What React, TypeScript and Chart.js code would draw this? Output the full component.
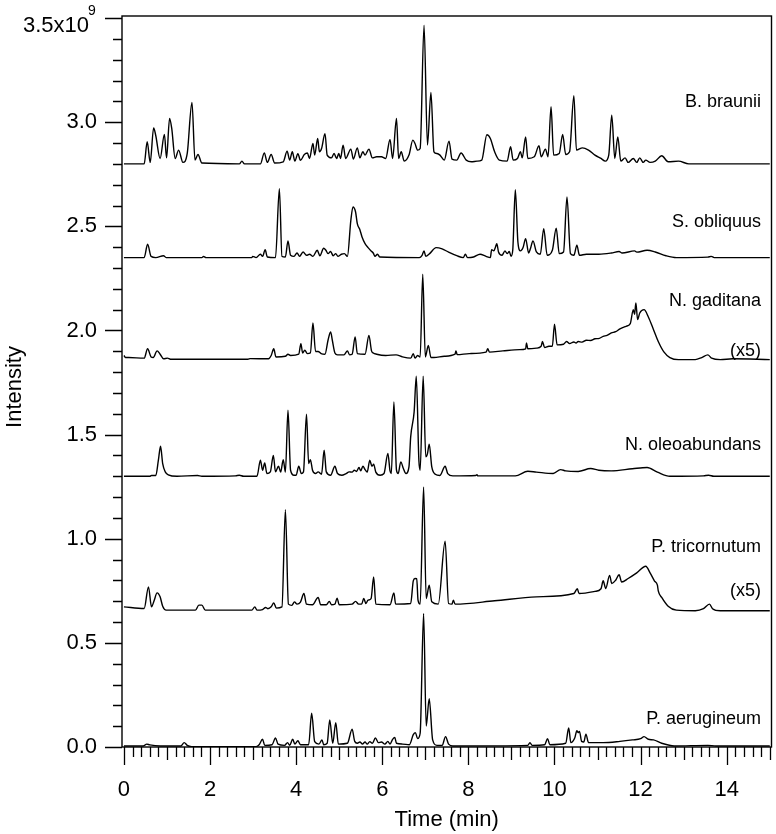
import React, { useEffect, useRef } from 'react';
import { Chart, registerables } from 'chart.js';

Chart.register(...registerables);

const FONT = '"Liberation Sans", Arial, Helvetica, sans-serif';

// ---- data (intensity in units of 1e9, time in min) ----
const seriesNames = ['B. braunii', 'S. obliquus', 'N. gaditana', 'N. oleoabundans', 'P. tricornutum', 'P. aerugineum'];
const scaleNotes = ['', '', '(x5)', '', '(x5)', ''];
const xTickValues = [0, 2, 4, 6, 8, 10, 12, 14];
const yTickValues = [0, 0.5, 1, 1.5, 2, 2.5, 3];
const yTopLabel = '3.5x10';
const yTopExponent = '9';
const xTitle = 'Time (min)';
const yTitle = 'Intensity';

const bBraunii: [number, number][] = [
  [0, 2.8], [0.47, 2.8], [0.54, 2.906], [0.61, 2.807], [0.69, 2.973], [0.74, 2.935], [0.84, 2.826], [0.94, 2.941], [0.99, 2.829], [1.06, 3.018], [1.11, 2.97], [1.19, 2.826], [1.27, 2.866], [1.37, 2.807], [1.47, 2.85], [1.58, 3.095], [1.65, 2.818], [1.72, 2.845], [1.81, 2.804], [2.68, 2.8], [2.74, 2.813], [2.8, 2.8], [3.17, 2.8], [3.26, 2.853], [3.33, 2.807], [3.42, 2.845], [3.5, 2.804], [3.7, 2.81], [3.79, 2.861], [3.85, 2.818], [3.91, 2.858], [3.97, 2.813], [4.04, 2.849], [4.1, 2.817], [4.19, 2.845], [4.26, 2.852], [4.31, 2.826], [4.39, 2.898], [4.43, 2.842], [4.5, 2.922], [4.54, 2.858], [4.59, 2.874], [4.67, 2.945], [4.72, 2.842], [4.82, 2.829], [4.88, 2.85], [4.94, 2.826], [4.99, 2.85], [5.03, 2.826], [5.09, 2.89], [5.15, 2.826], [5.27, 2.871], [5.33, 2.823], [5.42, 2.877], [5.48, 2.829], [5.55, 2.858], [5.6, 2.842], [5.69, 2.871], [5.77, 2.829], [5.87, 2.834], [5.98, 2.834], [6.08, 2.826], [6.18, 2.917], [6.24, 2.826], [6.33, 3.018], [6.38, 2.826], [6.44, 2.858], [6.51, 2.813], [6.62, 2.842], [6.71, 2.914], [6.76, 2.898], [6.82, 2.866], [6.88, 2.874], [6.97, 3.466], [7.05, 2.89], [7.13, 3.143], [7.2, 2.858], [7.27, 2.85], [7.34, 2.842], [7.44, 2.818], [7.55, 2.909], [7.62, 2.823], [7.73, 2.818], [7.83, 2.852], [7.95, 2.818], [8.07, 2.81], [8.2, 2.813], [8.31, 2.818], [8.43, 2.94], [8.51, 2.922], [8.61, 2.858], [8.72, 2.818], [8.9, 2.813], [8.98, 2.882], [9.04, 2.818], [9.14, 2.826], [9.21, 2.858], [9.25, 2.829], [9.33, 2.929], [9.38, 2.826], [9.53, 2.834], [9.64, 2.887], [9.69, 2.834], [9.79, 2.871], [9.85, 2.834], [9.92, 3.074], [9.98, 2.842], [10.11, 2.85], [10.19, 2.941], [10.26, 2.845], [10.35, 2.858], [10.45, 3.127], [10.51, 2.866], [10.65, 2.877], [10.79, 2.866], [10.94, 2.842], [11.08, 2.826], [11.18, 2.813], [11.26, 2.842], [11.33, 3.034], [11.4, 2.826], [11.47, 2.929], [11.54, 2.813], [11.64, 2.829], [11.71, 2.807], [11.83, 2.826], [11.91, 2.807], [11.98, 2.829], [12.06, 2.807], [12.12, 2.818], [12.22, 2.807], [12.34, 2.813], [12.49, 2.839], [12.64, 2.81], [12.88, 2.813], [13.12, 2.8], [15, 2.8],
];

const sObliquus: [number, number][] = [
  [0, 2.35], [0.47, 2.35], [0.55, 2.414], [0.63, 2.356], [0.74, 2.35], [0.92, 2.359], [0.98, 2.35], [1.81, 2.35], [1.85, 2.355], [1.91, 2.35], [2.97, 2.35], [2.99, 2.356], [3.07, 2.35], [3.17, 2.366], [3.22, 2.356], [3.28, 2.388], [3.33, 2.353], [3.52, 2.35], [3.61, 2.681], [3.67, 2.356], [3.75, 2.353], [3.81, 2.43], [3.87, 2.361], [3.95, 2.356], [4.02, 2.372], [4.08, 2.356], [4.16, 2.377], [4.24, 2.361], [4.31, 2.366], [4.39, 2.356], [4.49, 2.385], [4.55, 2.359], [4.64, 2.395], [4.69, 2.385], [4.74, 2.369], [4.8, 2.379], [4.86, 2.359], [4.92, 2.369], [4.97, 2.356], [5.05, 2.366], [5.12, 2.369], [5.19, 2.356], [5.27, 2.529], [5.32, 2.593], [5.38, 2.569], [5.42, 2.513], [5.48, 2.484], [5.53, 2.449], [5.6, 2.417], [5.67, 2.398], [5.74, 2.382], [5.79, 2.372], [5.83, 2.356], [5.89, 2.366], [5.94, 2.353], [6.86, 2.35], [6.92, 2.359], [6.97, 2.382], [7.01, 2.356], [7.1, 2.369], [7.25, 2.398], [7.39, 2.392], [7.54, 2.376], [7.73, 2.359], [7.88, 2.35], [7.93, 2.366], [7.98, 2.35], [8.12, 2.353], [8.27, 2.366], [8.41, 2.356], [8.51, 2.35], [8.54, 2.388], [8.59, 2.382], [8.63, 2.401], [8.66, 2.417], [8.7, 2.377], [8.78, 2.361], [8.85, 2.382], [8.9, 2.369], [8.95, 2.379], [8.99, 2.356], [9.03, 2.385], [9.09, 2.676], [9.15, 2.425], [9.21, 2.382], [9.27, 2.398], [9.33, 2.441], [9.4, 2.372], [9.44, 2.392], [9.5, 2.43], [9.58, 2.377], [9.67, 2.366], [9.75, 2.489], [9.83, 2.361], [9.95, 2.385], [10.04, 2.491], [10.11, 2.369], [10.21, 2.377], [10.29, 2.641], [10.37, 2.369], [10.45, 2.361], [10.52, 2.409], [10.58, 2.361], [10.74, 2.366], [11.03, 2.366], [11.32, 2.372], [11.5, 2.379], [11.57, 2.372], [11.86, 2.382], [11.91, 2.376], [12.15, 2.385], [12.34, 2.377], [12.59, 2.359], [12.83, 2.35], [13.56, 2.352], [13.64, 2.356], [13.71, 2.35], [15, 2.35],
];

const nGaditana: [number, number][] = [
  [0, 1.88], [0.04, 1.87], [0.11, 1.87], [0.47, 1.867], [0.55, 1.912], [0.63, 1.873], [0.68, 1.87], [0.77, 1.902], [0.84, 1.886], [0.92, 1.864], [1.01, 1.867], [1.08, 1.862], [1.32, 1.862], [2.88, 1.862], [2.93, 1.865], [3.36, 1.864], [3.42, 1.88], [3.48, 1.912], [3.53, 1.873], [3.75, 1.876], [3.81, 1.886], [3.87, 1.88], [4.06, 1.886], [4.11, 1.937], [4.15, 1.892], [4.2, 1.905], [4.26, 1.889], [4.33, 1.892], [4.39, 2.036], [4.45, 1.899], [4.51, 1.899], [4.58, 1.889], [4.67, 1.886], [4.74, 1.953], [4.8, 1.993], [4.84, 1.953], [4.9, 1.892], [4.96, 1.883], [5.11, 1.883], [5.19, 1.902], [5.24, 1.883], [5.3, 1.886], [5.37, 1.969], [5.42, 1.889], [5.6, 1.886], [5.69, 1.976], [5.75, 1.902], [5.79, 1.892], [5.87, 1.886], [6.08, 1.88], [6.32, 1.883], [6.47, 1.873], [6.66, 1.867], [6.72, 1.889], [6.76, 1.867], [6.82, 1.88], [6.88, 1.873], [6.94, 2.27], [7.0, 1.873], [7.07, 1.928], [7.13, 1.87], [7.2, 1.87], [7.44, 1.876], [7.69, 1.886], [7.71, 1.902], [7.74, 1.884], [8.02, 1.889], [8.41, 1.896], [8.45, 1.912], [8.49, 1.896], [8.8, 1.902], [9.19, 1.908], [9.33, 1.912], [9.35, 1.94], [9.38, 1.912], [9.58, 1.915], [9.69, 1.924], [9.72, 1.947], [9.77, 1.918], [9.87, 1.924], [9.95, 1.924], [10.0, 2.03], [10.06, 1.931], [10.21, 1.934], [10.28, 1.947], [10.35, 1.937], [10.45, 1.945], [10.5, 1.94], [10.55, 1.947], [10.64, 1.944], [10.74, 1.953], [10.84, 1.952], [10.94, 1.96], [11.04, 1.962], [11.13, 1.972], [11.22, 1.976], [11.32, 1.988], [11.42, 1.994], [11.52, 2.008], [11.66, 2.02], [11.76, 2.033], [11.83, 2.1], [11.86, 2.078], [11.89, 2.132], [11.93, 2.052], [11.98, 2.084], [12.08, 2.1], [12.18, 2.065], [12.3, 2.004], [12.41, 1.947], [12.54, 1.897], [12.68, 1.87], [12.88, 1.86], [13.27, 1.86], [13.42, 1.87], [13.56, 1.883], [13.65, 1.867], [13.85, 1.86], [14.14, 1.864], [15, 1.86],
];

const nOleoabundans: [number, number][] = [
  [0, 1.3], [0.6, 1.3], [0.64, 1.304], [0.74, 1.304], [0.8, 1.377], [0.85, 1.444], [0.9, 1.361], [0.96, 1.321], [1.03, 1.307], [1.23, 1.3], [1.71, 1.304], [1.81, 1.3], [2.59, 1.302], [2.68, 1.305], [2.78, 1.3], [3.09, 1.3], [3.17, 1.377], [3.22, 1.329], [3.27, 1.364], [3.32, 1.313], [3.4, 1.321], [3.47, 1.4], [3.52, 1.321], [3.59, 1.348], [3.64, 1.32], [3.7, 1.38], [3.75, 1.32], [3.81, 1.617], [3.87, 1.329], [3.95, 1.305], [4.0, 1.305], [4.06, 1.348], [4.12, 1.313], [4.17, 1.321], [4.24, 1.598], [4.29, 1.361], [4.33, 1.38], [4.38, 1.329], [4.45, 1.313], [4.51, 1.321], [4.59, 1.31], [4.65, 1.425], [4.7, 1.321], [4.8, 1.305], [4.9, 1.348], [4.96, 1.313], [5.06, 1.305], [5.16, 1.313], [5.23, 1.321], [5.3, 1.32], [5.35, 1.329], [5.4, 1.323], [5.46, 1.342], [5.5, 1.326], [5.55, 1.348], [5.6, 1.332], [5.65, 1.32], [5.71, 1.377], [5.76, 1.348], [5.8, 1.358], [5.85, 1.32], [5.95, 1.305], [6.04, 1.313], [6.13, 1.409], [6.18, 1.326], [6.21, 1.313], [6.27, 1.657], [6.33, 1.329], [6.37, 1.313], [6.43, 1.369], [6.49, 1.337], [6.55, 1.313], [6.62, 1.345], [6.66, 1.489], [6.74, 1.609], [6.79, 1.78], [6.85, 1.377], [6.88, 1.329], [6.95, 1.78], [7.01, 1.393], [7.05, 1.409], [7.09, 1.454], [7.15, 1.345], [7.23, 1.31], [7.34, 1.304], [7.46, 1.348], [7.52, 1.313], [7.64, 1.302], [8.17, 1.304], [8.2, 1.307], [8.22, 1.302], [9.09, 1.302], [9.38, 1.324], [9.58, 1.32], [9.97, 1.313], [10.14, 1.332], [10.26, 1.326], [10.55, 1.323], [10.84, 1.337], [11.03, 1.329], [11.32, 1.326], [11.81, 1.336], [12.15, 1.342], [12.39, 1.32], [12.68, 1.3], [13.46, 1.302], [13.58, 1.305], [13.7, 1.3], [15, 1.3],
];

const pTricornutum: [number, number][] = [
  [0, 0.673], [0.47, 0.665], [0.57, 0.769], [0.64, 0.673], [0.7, 0.702], [0.77, 0.74], [0.84, 0.721], [0.9, 0.676], [0.98, 0.657], [1.66, 0.657], [1.74, 0.681], [1.81, 0.681], [1.89, 0.657], [2.97, 0.657], [3.04, 0.673], [3.09, 0.657], [3.22, 0.66], [3.29, 0.67], [3.34, 0.664], [3.42, 0.673], [3.48, 0.692], [3.54, 0.667], [3.67, 0.673], [3.75, 1.14], [3.82, 0.686], [3.9, 0.68], [3.96, 0.697], [4.02, 0.686], [4.1, 0.696], [4.18, 0.737], [4.24, 0.686], [4.38, 0.683], [4.51, 0.718], [4.57, 0.683], [4.7, 0.683], [4.77, 0.699], [4.82, 0.683], [4.9, 0.686], [4.95, 0.715], [5.0, 0.683], [5.3, 0.686], [5.38, 0.699], [5.45, 0.686], [5.52, 0.686], [5.57, 0.713], [5.62, 0.689], [5.67, 0.705], [5.74, 0.712], [5.8, 0.817], [5.85, 0.686], [6.18, 0.683], [6.27, 0.74], [6.31, 0.686], [6.66, 0.689], [6.72, 0.798], [6.76, 0.809], [6.8, 0.808], [6.83, 0.705], [6.88, 0.686], [6.96, 1.249], [7.02, 0.713], [7.09, 0.777], [7.15, 0.697], [7.3, 0.686], [7.46, 0.988], [7.54, 0.689], [7.62, 0.686], [7.65, 0.705], [7.69, 0.686], [8.61, 0.702], [9.58, 0.721], [10.45, 0.737], [10.53, 0.76], [10.57, 0.737], [10.94, 0.747], [11.08, 0.76], [11.13, 0.798], [11.19, 0.761], [11.28, 0.824], [11.33, 0.785], [11.42, 0.801], [11.5, 0.827], [11.56, 0.792], [11.71, 0.809], [11.91, 0.836], [12.12, 0.868], [12.22, 0.836], [12.32, 0.798], [12.39, 0.777], [12.41, 0.75], [12.49, 0.718], [12.64, 0.676], [12.83, 0.657], [13.27, 0.654], [13.46, 0.664], [13.6, 0.686], [13.67, 0.664], [13.85, 0.654], [15, 0.654],
];

const pAerugineum: [number, number][] = [
  [0, 0.005], [0.45, 0.005], [0.53, 0.014], [0.6, 0.01], [0.84, 0.005], [1.32, 0.005], [1.4, 0.021], [1.47, 0.008], [1.57, 0.002], [3.07, 0.002], [3.14, 0.011], [3.22, 0.037], [3.27, 0.008], [3.44, 0.011], [3.52, 0.043], [3.58, 0.014], [3.73, 0.008], [3.8, 0.021], [3.85, 0.008], [3.92, 0.037], [3.97, 0.014], [4.04, 0.03], [4.1, 0.011], [4.29, 0.011], [4.36, 0.162], [4.43, 0.026], [4.53, 0.014], [4.6, 0.034], [4.64, 0.011], [4.72, 0.018], [4.78, 0.13], [4.85, 0.018], [4.92, 0.117], [4.98, 0.014], [5.19, 0.018], [5.3, 0.085], [5.36, 0.027], [5.42, 0.018], [5.48, 0.024], [5.54, 0.014], [5.6, 0.024], [5.65, 0.014], [5.71, 0.026], [5.77, 0.018], [5.84, 0.043], [5.91, 0.021], [5.98, 0.024], [6.06, 0.014], [6.13, 0.027], [6.18, 0.014], [6.24, 0.037], [6.29, 0.046], [6.33, 0.018], [6.47, 0.014], [6.63, 0.011], [6.72, 0.059], [6.77, 0.069], [6.82, 0.04], [6.88, 0.066], [6.96, 0.641], [7.02, 0.101], [7.09, 0.232], [7.17, 0.034], [7.27, 0.008], [7.39, 0.008], [7.47, 0.05], [7.54, 0.014], [7.64, 0.005], [9.38, 0.008], [9.43, 0.021], [9.48, 0.008], [9.77, 0.011], [9.84, 0.04], [9.89, 0.011], [10.26, 0.018], [10.33, 0.091], [10.38, 0.021], [10.47, 0.043], [10.52, 0.078], [10.55, 0.069], [10.58, 0.075], [10.63, 0.027], [10.68, 0.024], [10.73, 0.062], [10.79, 0.021], [11.13, 0.021], [11.52, 0.027], [11.81, 0.034], [12.0, 0.04], [12.08, 0.05], [12.18, 0.037], [12.3, 0.034], [12.49, 0.018], [12.78, 0.005], [13.56, 0.008], [13.75, 0.005], [15, 0.005],
];

const allSeries = [bBraunii, sObliquus, nGaditana, nOleoabundans, pTricornutum, pAerugineum];

// label placement (pixel baselines, right aligned)
const LABEL_RIGHT = 761;
const labelBaselines = [107, 227, 306, 450, 552, 724];
const noteBaselines = [0, 0, 356, 0, 596, 0];

const overlayPlugin = {
  id: 'overlay',
  afterDraw(chart: any) {
    const { ctx, chartArea, scales } = chart;
    const xs = scales.x;
    const ys = scales.y;
    ctx.save();
    ctx.strokeStyle = '#000';
    ctx.fillStyle = '#000';
    // frame
    ctx.lineWidth = 1.4;
    ctx.strokeRect(chartArea.left, chartArea.top, chartArea.right - chartArea.left, chartArea.bottom - chartArea.top);
    // y ticks
    ctx.lineWidth = 1.3;
    ctx.beginPath();
    for (let i = 0; i <= 35; i++) {
      const y = Math.round(ys.getPixelForValue(i / 10)) + 0.5;
      const len = i % 5 === 0 ? 17 : 9;
      ctx.moveTo(chartArea.left - len, y);
      ctx.lineTo(chartArea.left, y);
    }
    // x ticks
    for (let i = 0; i <= 75; i++) {
      const x = Math.round(xs.getPixelForValue(i * 0.2)) + 0.5;
      const len = i % 10 === 0 ? 18 : i % 5 === 0 ? 13 : 10;
      ctx.moveTo(x, chartArea.bottom);
      ctx.lineTo(x, chartArea.bottom + len);
    }
    ctx.stroke();
    // top label
    ctx.font = `22px ${FONT}`;
    ctx.textAlign = 'right';
    ctx.textBaseline = 'alphabetic';
    ctx.fillText(yTopLabel, 89, 32);
    ctx.font = `14px ${FONT}`;
    ctx.textAlign = 'left';
    ctx.fillText(yTopExponent, 88, 15);
    // axis titles
    ctx.font = `22px ${FONT}`;
    ctx.textAlign = 'center';
    ctx.textBaseline = 'middle';
    ctx.fillText(xTitle, (chartArea.left + chartArea.right) / 2, 820);
    ctx.save();
    ctx.translate(15, 387);
    ctx.rotate(-Math.PI / 2);
    ctx.fillText(yTitle, 0, 0);
    ctx.restore();
    // series labels
    ctx.font = `18px ${FONT}`;
    ctx.textAlign = 'right';
    ctx.textBaseline = 'alphabetic';
    seriesNames.forEach((n, i) => {
      ctx.fillText(n, LABEL_RIGHT, labelBaselines[i]);
      if (scaleNotes[i]) ctx.fillText(scaleNotes[i], LABEL_RIGHT, noteBaselines[i]);
    });
    ctx.restore();
  },
};

export default function App() {
  const ref = useRef<HTMLCanvasElement>(null);
  useEffect(() => {
    if (!ref.current) return;
    const chart = new Chart(ref.current, {
      type: 'line',
      data: {
        datasets: allSeries.map((s, i) => ({
          label: seriesNames[i],
          data: s.map(([x, y]) => ({ x, y })),
          borderColor: '#000',
          borderWidth: 1.4,
          pointRadius: 0,
          cubicInterpolationMode: 'monotone' as const,
          fill: false,
        })),
      },
      options: {
        animation: false,
        responsive: false,
        devicePixelRatio: 1,
        layout: { padding: { top: 16, right: 4.5, left: 0, bottom: 0 } },
        plugins: { legend: { display: false }, tooltip: { enabled: false } },
        scales: {
          x: {
            type: 'linear',
            min: -0.045,
            max: 15.04,
            afterBuildTicks: (s: any) => { s.ticks = xTickValues.map((v) => ({ value: v })); },
            afterFit: (s: any) => { s.height = 87; s.paddingLeft = 0; s.paddingRight = 0; },
            grid: { display: false, drawTicks: false },
            border: { display: false },
            ticks: {
              autoSkip: false,
              maxRotation: 0,
              padding: 30,
              color: '#000',
              font: { family: FONT, size: 22 },
              callback: (v: any) => String(v),
            },
          },
          y: {
            type: 'linear',
            min: 0,
            max: 3.51,
            afterBuildTicks: (s: any) => { s.ticks = yTickValues.map((v) => ({ value: v })); },
            afterFit: (s: any) => { s.width = 122; s.paddingTop = 0; s.paddingBottom = 0; },
            grid: { display: false, drawTicks: false },
            border: { display: false },
            ticks: {
              autoSkip: false,
              padding: 25,
              color: '#000',
              font: { family: FONT, size: 22 },
              callback: (v: any) => Number(v).toFixed(1),
            },
          },
        },
      },
      plugins: [overlayPlugin],
    });
    return () => chart.destroy();
  }, []);
  return (
    <div style={{ position: 'absolute', left: 0, top: 0, width: 776, height: 834, background: '#fff' }}>
      <canvas ref={ref} width={776} height={834} style={{ display: 'block' }} />
    </div>
  );
}
